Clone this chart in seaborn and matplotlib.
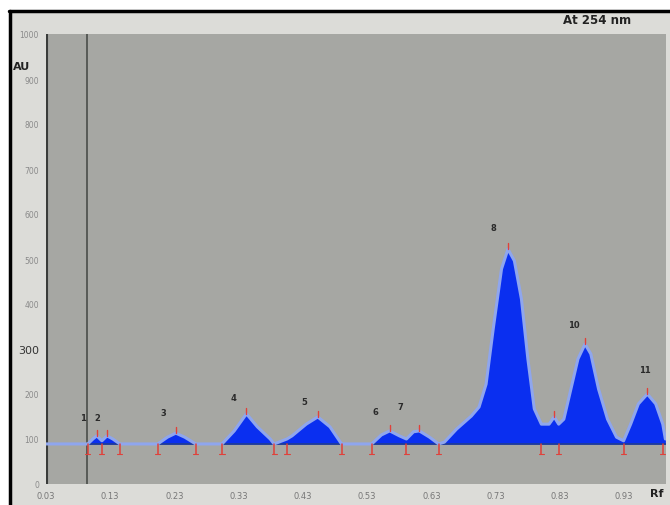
import numpy as np
import pandas as pd
import seaborn as sns
from matplotlib import pyplot as plt
from matplotlib.lines import Line2D

# densitogram trace (Rf, AU)
rf = [0.030, 0.095, 0.103, 0.109, 0.117, 0.125, 0.134, 0.145, 0.204, 0.219,
      0.232, 0.246, 0.263, 0.304, 0.323, 0.342, 0.359, 0.379, 0.385, 0.405,
      0.413, 0.435, 0.453, 0.472, 0.490, 0.537, 0.552, 0.565, 0.580, 0.591,
      0.602, 0.611, 0.627, 0.641, 0.650, 0.669, 0.692, 0.704, 0.715, 0.726,
      0.739, 0.749, 0.759, 0.770, 0.780, 0.790, 0.801, 0.813, 0.821, 0.828,
      0.836, 0.847, 0.858, 0.869, 0.878, 0.890, 0.904, 0.918, 0.929, 0.940,
      0.952, 0.966, 0.979, 0.990, 0.994]
au = [89, 89, 100, 107, 96, 107, 100, 89, 89, 104,
      113, 104, 89, 89, 118, 156, 127, 100, 89, 100,
      107, 133, 149, 127, 89, 89, 109, 118, 107, 100,
      116, 118, 104, 89, 93, 122, 151, 171, 222, 344,
      478, 522, 496, 411, 278, 167, 133, 133, 149, 133,
      144, 211, 278, 311, 289, 211, 144, 104, 96, 133,
      178, 200, 178, 133, 100]
baseline = 89

# peak limits (red markers below baseline) and apex ticks
bounds = [0.095, 0.117, 0.145, 0.204, 0.263, 0.304, 0.385, 0.405, 0.490,
          0.537, 0.591, 0.641, 0.801, 0.828, 0.929, 0.990]
apex = [0.109, 0.125, 0.232, 0.342, 0.453, 0.565, 0.611, 0.749, 0.821, 0.869, 0.966]
apex_au = [107, 107, 113, 156, 149, 118, 118, 522, 149, 311, 200]

# peak numbers
peak_names = ["1", "2", "3", "4", "5", "6", "7", "8", "10", "11"]
peak_x = [0.088, 0.110, 0.212, 0.322, 0.432, 0.543, 0.582, 0.727, 0.852, 0.962]
peak_y = [138, 138, 148, 183, 174, 151, 162, 560, 344, 244]

xticks = [0.03, 0.13, 0.23, 0.33, 0.43, 0.53, 0.63, 0.73, 0.83, 0.93]
yticks = [0, 100, 200, 300, 400, 500, 600, 700, 800, 900, 1000]

df = pd.DataFrame({"Rf": rf, "AU": au})

sns.set_style("white")
fig = plt.figure(figsize=(6.7, 5.06), dpi=100)
fig.patch.set_facecolor("#dcdcd8")
ax = fig.add_axes([46 / 670, 21 / 506, 620 / 670, 450 / 506])
ax.set_facecolor("#a6a7a3")

ax.fill_between(df["Rf"], baseline, df["AU"], color="#0a2ff0", lw=0)
sns.lineplot(data=df, x="Rf", y="AU", ax=ax, color="#8fa6ee", lw=2.2,
             sort=False, estimator=None)
ax.axhline(baseline, color="#1f3c9a", lw=1.3, zorder=1)

# start line near origin
ax.axvline(0.094, color="#4a4d4a", lw=1.2, zorder=0.5)
ax.axvline(0.031, color="#3a3c3a", lw=1.5, zorder=0.5)

for b in bounds:
    ax.plot([b, b], [baseline, baseline - 22], color="#e0413a", lw=1.1)
    ax.plot([b - 0.004, b + 0.004], [baseline - 22, baseline - 22], color="#e0413a", lw=0.8)
for a, h in zip(apex, apex_au):
    ax.plot([a, a], [h, h + 14], color="#e0413a", lw=1.0)

for name, x, y in zip(peak_names, peak_x, peak_y):
    ax.text(x, y, name, fontsize=6, color="#2a2a2a", ha="center", va="bottom",
            fontweight="bold")

ax.set_xlim(0.03, 0.995)
ax.set_ylim(0, 1000)
ax.set_xticks(xticks)
ax.set_xticklabels([f"{t:.2f}" for t in xticks], fontsize=6, color="#777777")
ax.set_yticks(yticks)
ylabels = ax.set_yticklabels([str(t) for t in yticks], fontsize=5.5, color="#8a8a8a")
ylabels[3].set_fontsize(8)
ylabels[3].set_color("#333333")
ax.tick_params(axis="both", direction="out", length=3, width=0.8, color="#888888", pad=2)
ax.set_xlabel("")
ax.set_ylabel("")
for s in ax.spines.values():
    s.set_visible(False)

fig.text(22 / 670, 1 - 67 / 506, "AU", fontsize=8, fontweight="bold", color="#222222",
         ha="center", va="center")
fig.text(657 / 670, 1 - 494 / 506, "Rf", fontsize=8, fontweight="bold", color="#222222",
         ha="center", va="center")
fig.text(597 / 670, 1 - 21 / 506, "At 254 nm", fontsize=8.5, fontweight="bold",
         color="#222222", ha="center", va="center")

# photo frame edges
fig.add_artist(plt.Rectangle((0, 1 - 11 / 506), 1, 11 / 506, transform=fig.transFigure,
                             color="white", zorder=0))
fig.add_artist(plt.Rectangle((0, 0), 9 / 670, 1, transform=fig.transFigure,
                             color="white", zorder=0))
fig.add_artist(Line2D([9 / 670, 1], [1 - 12 / 506, 1 - 12 / 506], color="black", lw=2.5))
fig.add_artist(Line2D([10 / 670, 10 / 670], [0, 1 - 12 / 506], color="black", lw=2.5))

fig.savefig("out.png", dpi=100, facecolor=fig.get_facecolor())
